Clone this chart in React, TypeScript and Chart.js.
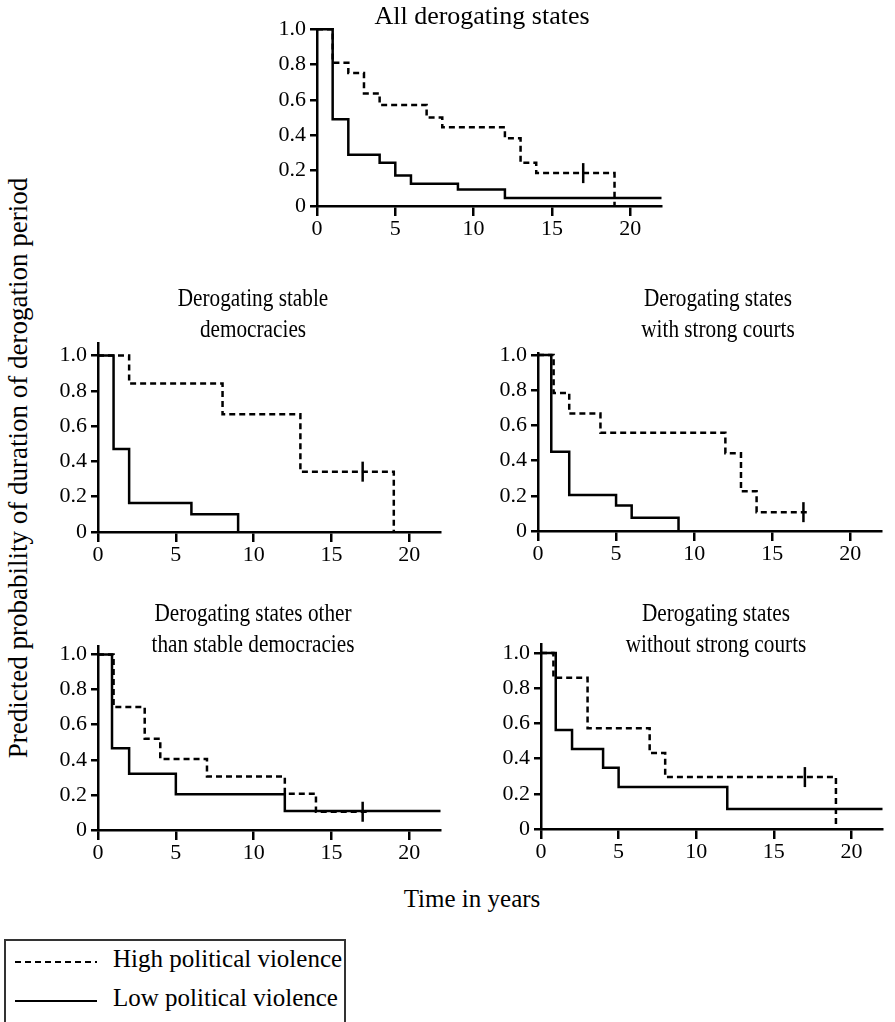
import React, { useEffect, useRef } from "react";
import { Chart, registerables } from "chart.js";

Chart.register(...registerables);

const FONT = "'Liberation Serif', 'Times New Roman', serif";

// Axis ticks
const xTicks = [0, 5, 10, 15, 20];
const yTicks = [0, 0.2, 0.4, 0.6, 0.8, 1.0];

// All derogating states
const allHighT = [0, 1, 2, 3, 4, 7, 8, 12, 13, 14, 19];
const allHighS = [1, 0.81, 0.752, 0.637, 0.571, 0.5, 0.445, 0.383, 0.244, 0.186, 0];
const allLowT = [0, 1, 2, 4, 5, 6, 9, 12, 22];
const allLowS = [1, 0.49, 0.29, 0.244, 0.173, 0.126, 0.094, 0.045, 0.045];
const allCensorT = [17];
const allCensorS = [0.186];

// Derogating stable democracies
const sdHighT = [0, 2, 8, 13, 19];
const sdHighS = [1, 0.842, 0.667, 0.342, 0];
const sdLowT = [0, 1, 2, 6, 9];
const sdLowS = [1, 0.47, 0.165, 0.1, 0];
const sdCensorT = [17];
const sdCensorS = [0.342];

// Derogating states with strong courts
const scHighT = [0, 1, 2, 4, 12, 13, 14, 17.3];
const scHighS = [1, 0.784, 0.667, 0.558, 0.442, 0.226, 0.107, 0.107];
const scLowT = [0, 0.85, 2, 5, 6, 9];
const scLowS = [1, 0.45, 0.205, 0.145, 0.075, 0];
const scCensorT = [17];
const scCensorS = [0.107];

// Derogating states other than stable democracies
const osHighT = [0, 1, 3, 4, 7, 12, 14, 17.3];
const osHighS = [1, 0.7, 0.52, 0.405, 0.305, 0.207, 0.104, 0.104];
const osLowT = [0, 0.9, 2, 5, 12, 22];
const osLowS = [1, 0.466, 0.32, 0.204, 0.108, 0.108];
const osCensorT = [17];
const osCensorS = [0.104];

// Derogating states without strong courts
const wcHighT = [0, 0.8, 3, 7, 8, 19];
const wcHighS = [1, 0.859, 0.573, 0.432, 0.295, 0];
const wcLowT = [0, 0.95, 2, 4, 5, 12, 22];
const wcLowS = [1, 0.562, 0.455, 0.348, 0.239, 0.113, 0.113];
const wcCensorT = [17];
const wcCensorS = [0.295];

const pts = (t: number[], s: number[]) => t.map((x, i) => ({ x, y: s[i] }));

type PanelDef = {
  key: string;
  L: number;
  R: number;
  T: number;
  B: number;
  ymax: number;
  high: { x: number; y: number }[];
  low: { x: number; y: number }[];
  censor: { x: number; y: number }[];
};

const panels: PanelDef[] = [
  { key: "all", L: 317, R: 671, T: 28, B: 206, ymax: 1.0, high: pts(allHighT, allHighS), low: pts(allLowT, allLowS), censor: pts(allCensorT, allCensorS) },
  { key: "sd", L: 98, R: 450, T: 342, B: 532, ymax: 1.07, high: pts(sdHighT, sdHighS), low: pts(sdLowT, sdLowS), censor: pts(sdCensorT, sdCensorS) },
  { key: "sc", L: 538, R: 891, T: 352, B: 531, ymax: 1.01, high: pts(scHighT, scHighS), low: pts(scLowT, scLowS), censor: pts(scCensorT, scCensorS) },
  { key: "os", L: 98, R: 450, T: 645, B: 830, ymax: 1.047, high: pts(osHighT, osHighS), low: pts(osLowT, osLowS), censor: pts(osCensorT, osCensorS) },
  { key: "wc", L: 541, R: 892, T: 643, B: 829, ymax: 1.05, high: pts(wcHighT, wcHighS), low: pts(wcLowT, wcLowS), censor: pts(wcCensorT, wcCensorS) },
];

const YW = 50;
const PT = 16;
const PR = 3;
const XH = 40;

function Panel({ p }: { p: PanelDef }) {
  const ref = useRef<HTMLCanvasElement | null>(null);
  const width = p.R - p.L + YW + PR;
  const height = p.B - p.T + PT + XH;
  useEffect(() => {
    if (!ref.current) return;
    const chart = new Chart(ref.current, {
      type: "line",
      data: {
        datasets: [
          {
            data: p.low,
            borderColor: "#000",
            borderWidth: 2.5,
            stepped: true,
            pointRadius: 0,
            fill: false,
            clip: false,
          } as any,
          {
            data: p.high,
            borderColor: "#000",
            borderWidth: 2.5,
            borderDash: [6, 4],
            stepped: true,
            pointRadius: 0,
            fill: false,
            clip: false,
          } as any,
          {
            type: "scatter",
            data: p.censor,
            showLine: false,
            pointStyle: "line",
            pointRotation: 90,
            pointRadius: 10,
            pointBorderWidth: 2.5,
            pointBorderColor: "#000",
            pointBackgroundColor: "#000",
            borderColor: "#000",
            clip: false,
          } as any,
        ],
      },
      options: {
        animation: false,
        responsive: false,
        maintainAspectRatio: false,
        events: [],
        layout: { padding: { top: PT, right: PR, left: 0, bottom: 0 } },
        plugins: {
          legend: { display: false },
          tooltip: { enabled: false },
          title: { display: false },
        },
        scales: {
          x: {
            type: "linear",
            min: 0,
            max: 22,
            afterBuildTicks: (s: any) => {
              s.ticks = xTicks.map((v) => ({ value: v }));
            },
            afterFit: (s: any) => {
              s.height = XH;
            },
            grid: {
              display: true,
              drawOnChartArea: false,
              drawTicks: true,
              tickLength: 10,
              color: "#000",
              lineWidth: 2.5,
            },
            border: { display: true, color: "#000", width: 2.5 },
            ticks: {
              color: "#000",
              font: { size: 22, family: FONT },
              padding: 0,
              maxRotation: 0,
              autoSkip: false,
              callback: (v: any) => String(v),
            },
          },
          y: {
            type: "linear",
            min: 0,
            max: p.ymax,
            afterBuildTicks: (s: any) => {
              s.ticks = yTicks.map((v) => ({ value: v }));
            },
            afterFit: (s: any) => {
              s.width = YW;
            },
            grid: {
              display: true,
              drawOnChartArea: false,
              drawTicks: true,
              tickLength: 7,
              color: "#000",
              lineWidth: 2.5,
            },
            border: { display: true, color: "#000", width: 2.5 },
            ticks: {
              color: "#000",
              font: { size: 22, family: FONT },
              padding: 4,
              autoSkip: false,
              callback: (v: any) => (Number(v) === 0 ? "0" : Number(v).toFixed(1)),
            },
          },
        },
      } as any,
    });
    return () => chart.destroy();
  }, [p]);
  return (
    <canvas
      ref={ref}
      width={width}
      height={height}
      style={{
        position: "absolute",
        left: p.L - YW,
        top: p.T - PT,
        width,
        height,
      }}
    />
  );
}

const textBase: React.CSSProperties = {
  position: "absolute",
  fontFamily: FONT,
  color: "#000",
  whiteSpace: "nowrap",
  textAlign: "center",
};

function Title({
  cx,
  top,
  lines,
  size,
  squeeze,
}: {
  cx: number;
  top: number;
  lines: string[];
  size: number;
  squeeze: number;
}) {
  return (
    <div
      style={{
        ...textBase,
        left: cx - 200,
        width: 400,
        top,
        fontSize: size,
        lineHeight: "31px",
        transform: `scaleX(${squeeze})`,
        transformOrigin: "center",
      }}
    >
      {lines.map((l, i) => (
        <div key={i}>{l}</div>
      ))}
    </div>
  );
}

export default function App() {
  return (
    <div
      style={{
        position: "absolute",
        left: 0,
        top: 0,
        width: 895,
        height: 1022,
        overflow: "hidden",
        background: "#fff",
      }}
    >
      {panels.map((p) => (
        <Panel key={p.key} p={p} />
      ))}
      <Title cx={482} top={0} size={26} squeeze={1} lines={["All derogating states"]} />
      <Title cx={253} top={282} size={25} squeeze={0.85} lines={["Derogating stable", "democracies"]} />
      <Title cx={718} top={282} size={25} squeeze={0.85} lines={["Derogating states", "with strong courts"]} />
      <Title cx={253} top={597} size={25} squeeze={0.85} lines={["Derogating states other", "than stable democracies"]} />
      <Title cx={716} top={597} size={25} squeeze={0.85} lines={["Derogating states", "without strong courts"]} />

      <div
        style={{
          ...textBase,
          left: 18 - 300,
          top: 468 - 15,
          width: 600,
          height: 30,
          lineHeight: "30px",
          fontSize: 27,
          transform: "rotate(-90deg)",
        }}
      >
        Predicted probability of duration of derogation period
      </div>

      <div
        style={{
          ...textBase,
          left: 472 - 150,
          width: 300,
          top: 884,
          fontSize: 25,
          lineHeight: "30px",
        }}
      >
        Time in years
      </div>

      <div
        style={{
          position: "absolute",
          left: 4,
          top: 939,
          width: 342,
          height: 120,
          border: "2px solid #333",
          boxSizing: "border-box",
        }}
      />
      <div
        style={{
          position: "absolute",
          left: 15,
          top: 961,
          width: 82,
          height: 2,
          background:
            "repeating-linear-gradient(to right, #000 0px, #000 6px, transparent 6px, transparent 10px)",
        }}
      />
      <div
        style={{
          position: "absolute",
          left: 15,
          top: 1000,
          width: 82,
          height: 2,
          background: "#000",
        }}
      />
      <div
        style={{
          ...textBase,
          textAlign: "left",
          left: 113,
          top: 944,
          fontSize: 25,
          lineHeight: "30px",
        }}
      >
        High political violence
      </div>
      <div
        style={{
          ...textBase,
          textAlign: "left",
          left: 113,
          top: 983,
          fontSize: 25,
          lineHeight: "30px",
        }}
      >
        Low political violence
      </div>
    </div>
  );
}
